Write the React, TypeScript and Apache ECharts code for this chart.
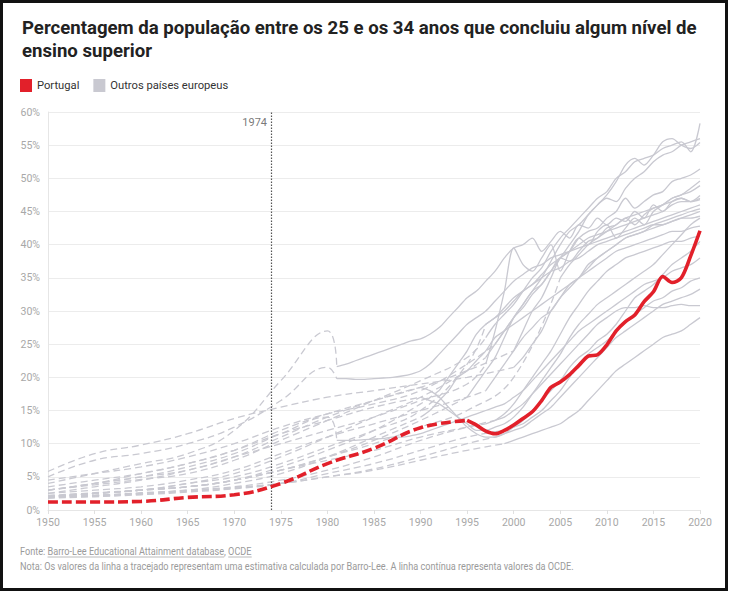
import React, { useEffect, useRef } from 'react';
import * as echarts from 'echarts';

// ---------- texts ----------
const TITLE =
  'Percentagem da população entre os 25 e os 34 anos que concluiu algum nível de\nensino superior';
const NAME_PT = 'Portugal';
const NAME_OTHERS = 'Outros países europeus';
const MARK_YEAR = 1974;
const MARK_LABEL = '1974';
const SOURCE_PREFIX = 'Fonte: ';
const SOURCE_LINK_1 = 'Barro-Lee Educational Attainment database';
const SOURCE_SEP = ', ';
const SOURCE_LINK_2 = 'OCDE';
const NOTE =
  'Nota: Os valores da linha a tracejado representam uma estimativa calculada por Barro-Lee. A linha contínua representa valores da OCDE.';

// ---------- axes ----------
const X_MIN = 1950;
const X_MAX = 2020;
const X_STEP = 5;
const Y_MIN = 0;
const Y_MAX = 60;
const Y_STEP = 5;

// Barro-Lee values are 5-yearly from 1950, up to (not including) the start of OECD data.
// OECD values are yearly from the start year to 2020.

// Portugal
const ptStart = 1995;
const ptBarroLee = [1.2, 1.2, 1.3, 1.9, 2.3, 4.0, 7.0, 9.3, 12.4];
const ptOecd = [
  13.5, 12.8, 11.9, 11.5, 12.0, 12.8, 13.8, 14.8, 16.5, 18.5,
  19.3, 20.4, 21.8, 23.2, 23.4, 24.9, 27.0, 28.4, 29.4, 31.4,
  32.9, 35.2, 34.3, 35.0, 38.3, 42.1,
];

// Other European countries
const c01Start = 1997;
const c01BarroLee = [3.0, 3.8, 4.6, 5.5, 7.5, 10.5, 13.5, 16.5, 19.5, 23];
const c01Oecd = [26, 28, 29.5, 31, 33, 35, 36.5, 39, 41, 42.5, 44, 45.5, 47, 48, 50, 51, 52.5, 53, 53.5, 54.5, 55, 55.5, 54, 58.3];

const c02Start = 1998;
const c02BarroLee = [4.5, 5.5, 6.5, 8, 10, 12.5, 14.5, 16, 18, 22];
const c02Oecd = [25, 27, 29, 30.5, 32.5, 34, 36, 38, 40, 42, 44.5, 46, 47, 46.5, 48.5, 50, 51, 52.5, 53.5, 54, 55, 55.5, 56];

const c03Start = 1997;
const c03BarroLee = [2, 2.5, 3, 4, 5.5, 8, 11, 14, 17, 21];
const c03Oecd = [23, 25, 27, 29, 31, 33, 35, 37.5, 40, 42, 43, 44.5, 46, 47.5, 49.5, 52, 53, 52, 53.5, 55.5, 56, 55, 54.5, 55.4];

const c04Start = 2000;
const c04BarroLee = [3.5, 4.5, 5.5, 7, 9, 12, 14.5, 16.5, 18.5, 21];
const c04Oecd = [24, 27, 30, 32, 35, 38, 39, 41, 42, 42.5, 44, 45, 47, 45.5, 46.5, 47.5, 48, 49.5, 50, 50.5, 51.4];

const c05Start = 1995;
const c05BarroLee = [2, 2.5, 3, 3.5, 4.5, 6, 8, 10.5, 13.5];
const c05Oecd = [17, 19, 21, 23, 26, 29, 31, 33, 34, 36, 38, 37.5, 39, 40.5, 41, 42.5, 43, 44, 43, 44.5, 45.5, 46, 47, 47.5, 48.5, 49.6];

const c06Start = 1997;
const c06BarroLee = [3, 4, 5, 6, 8, 10, 12, 14, 16.5, 19];
const c06Oecd = [22, 27, 33, 39.5, 37, 36, 38, 40, 36, 39, 41, 40, 42, 43, 41, 42.5, 44, 43, 45, 46, 47, 47.5, 48, 48.9];

const c07Start = 1981;
const c07BarroLee = [4, 5.5, 7, 8.5, 12, 19.5, 27];
const c07Oecd = [
  21.6, 22, 22.5, 23, 23.5, 24, 24.5, 25, 25.5, 25.8,
  26.5, 27.5, 29, 30.5, 32, 33, 34.5, 36, 38, 39.5,
  40, 41, 39, 40.5, 42, 41, 43, 42.5, 44, 43,
  44, 43.5, 45, 44, 46, 45, 46.5, 47, 46.5, 47.4,
];

const c08Start = 1981;
const c08BarroLee = [5, 7.5, 8.5, 10, 12.5, 16.5, 21.5];
const c08Oecd = [
  19.8, 19.8, 19.7, 19.7, 19.8, 19.9, 20, 20.2, 20.5, 21,
  22, 23.5, 25, 26.5, 28, 29, 30, 31.5, 33, 34.5,
  35.5, 36.5, 37, 38, 38.5, 39, 39.5, 40, 40.5, 41,
  41.5, 42, 42.5, 43, 43.5, 44, 44.5, 45, 45.5, 46,
];

const c09Start = 1997;
const c09BarroLee = [2.5, 3, 3.5, 4.5, 6, 8.5, 11, 13, 15, 17];
const c09Oecd = [18, 20, 22, 24, 26, 27.5, 29, 30, 32, 33.5, 35, 36.5, 38, 39, 40, 41, 41.5, 42, 43, 43.5, 44, 44.5, 45, 45.4];

const c10Start = 1992;
const c10BarroLee = [2, 2.5, 3, 3.5, 4.5, 6.5, 9, 12, 16];
const c10Oecd = [18, 20, 22, 24, 26.5, 28, 29, 30.5, 32, 33, 34, 35, 36, 36.5, 37.5, 38, 39, 40, 40.5, 41, 41.5, 42, 42.5, 43, 43, 43.5, 44, 44, 44.3];

const c11Start = 1990;
const c11BarroLee = [1.8, 2.2, 2.6, 3, 4, 5.5, 8, 11];
const c11Oecd = [14, 15, 16.5, 18, 20, 21, 22.5, 24, 26, 27, 28, 29, 30, 31, 32, 33, 34, 35, 36, 37, 38, 39, 39.5, 40, 40.5, 41, 41.5, 42, 42, 42.5, 42.8];

const c12Start = 1998;
const c12BarroLee = [2, 2.2, 2.5, 3, 3.5, 4.5, 6, 8, 10.5, 12.5];
const c12Oecd = [13.5, 14.5, 16, 18, 20, 22, 24, 26.5, 29, 31, 33, 34.5, 36, 37, 38, 38.5, 39, 39.5, 40, 40.5, 40.5, 41, 41.3];

const c13Start = 1999;
const c13BarroLee = [1.8, 2, 2.3, 2.7, 3.2, 4, 5.5, 7, 9, 11];
const c13Oecd = [12, 12.5, 13, 14, 15, 16.5, 18, 20, 22, 23.5, 24.5, 25.5, 27, 28.5, 29.5, 30.5, 31.5, 32, 33, 33.5, 34.5, 35];

const c14Start = 1998;
const c14BarroLee = [1.9, 2.1, 2.4, 2.8, 3.3, 4, 5, 6.2, 8, 10];
const c14Oecd = [11, 11.5, 12, 12.5, 13.5, 14.5, 15.5, 17, 18.5, 20, 21.5, 23, 24.5, 26, 27, 28, 29, 30, 31, 31.5, 32, 32.5, 33.3];

const c15Start = 1997;
const c15BarroLee = [2.2, 2.6, 3, 3.5, 4.5, 6, 7.5, 9, 11, 12.5];
const c15Oecd = [13, 13.5, 14, 15, 16, 17.5, 19, 20.5, 22, 23.5, 25, 26.5, 28, 29, 30, 30.5, 30.5, 30.8, 30.5, 30.5, 30.8, 31, 30.8, 30.8];

const c16Start = 1999;
const c16BarroLee = [2, 2.2, 2.5, 2.9, 3.4, 4, 5, 6, 7.5, 9];
const c16Oecd = [10, 10.5, 11, 11.5, 12, 12.5, 13, 14, 15, 16.5, 18, 19.5, 21, 22, 23, 24, 25, 26, 26.5, 27, 28, 29];

const c17Start = 1990;
const c17BarroLee = [2.5, 3.5, 4.5, 6, 8, 11, 14, 16.5];
const c17Oecd = [
  18.5, 18, 17, 15.5, 14, 12.5, 11.5, 11, 11, 11.5, 12.5,
  13.5, 15, 16.5, 18, 19.5, 21.5, 23, 24, 25.5, 26.5,
  28, 30, 32, 33, 34, 35.5, 37, 38, 39, 40.5,
];

const c18Start = 1990;
const c18BarroLee = [3, 4, 5.5, 7, 9, 11.5, 13.5, 15.5];
const c18Oecd = [
  17, 16.5, 16, 15, 14, 13, 12, 12, 12.5, 13, 14,
  15.5, 17.5, 19.5, 21.5, 23.5, 26, 28, 29.5, 31, 32,
  33, 34, 35, 36, 37, 38.5, 40, 41.5, 43, 44,
];

const c19Start = 1997;
const c19BarroLee = [2, 2.5, 3, 4, 5, 7, 9.5, 12, 15, 22];
const c19Oecd = [28, 29, 30, 31.5, 33, 34, 35.5, 37, 38, 39, 40, 41, 41.5, 42, 42.5, 43, 43.5, 44, 44.5, 45, 46, 46.5, 46.5, 46.8];

const c20Start = 2000;
const c20BarroLee = [5.8, 8.5, 9.8, 11.5, 13.8, 15.5, 17, 18, 19, 20];
const c20Oecd = [21.5, 23, 25, 27, 30, 32, 34, 35, 37, 38, 39, 40, 41, 41.5, 42, 42.5, 43, 43.5, 44, 44.5, 45];

const c21Start = 2005;
const c21BarroLee = [2, 2.5, 3, 3.5, 4.5, 6, 8, 10, 12.5, 15, 20];
const c21Oecd = [35, 37, 38.5, 40, 41, 42, 43, 44, 44.5, 45, 45.5, 46, 46.5, 47, 46.5, 47];

const c22Start = 1981;
const c22BarroLee = [3, 4, 5, 6.5, 8.5, 11.5, 14];
const c22Oecd = [
  10.5, 10.5, 10.5, 10.6, 10.7, 10.8, 11, 11, 11.2, 11.5,
  12, 12.5, 13, 13.5, 14, 14.5, 15, 15.5, 16, 17,
  18, 19.5, 21, 22.5, 24, 25.5, 27, 28, 29, 30,
  31, 32, 33, 34, 34.5, 35, 36, 36.5, 37, 38,
];

const OTHERS = [
  { start: c01Start, bl: c01BarroLee, oecd: c01Oecd },
  { start: c02Start, bl: c02BarroLee, oecd: c02Oecd },
  { start: c03Start, bl: c03BarroLee, oecd: c03Oecd },
  { start: c04Start, bl: c04BarroLee, oecd: c04Oecd },
  { start: c05Start, bl: c05BarroLee, oecd: c05Oecd },
  { start: c06Start, bl: c06BarroLee, oecd: c06Oecd },
  { start: c07Start, bl: c07BarroLee, oecd: c07Oecd },
  { start: c08Start, bl: c08BarroLee, oecd: c08Oecd },
  { start: c09Start, bl: c09BarroLee, oecd: c09Oecd },
  { start: c10Start, bl: c10BarroLee, oecd: c10Oecd },
  { start: c11Start, bl: c11BarroLee, oecd: c11Oecd },
  { start: c12Start, bl: c12BarroLee, oecd: c12Oecd },
  { start: c13Start, bl: c13BarroLee, oecd: c13Oecd },
  { start: c14Start, bl: c14BarroLee, oecd: c14Oecd },
  { start: c15Start, bl: c15BarroLee, oecd: c15Oecd },
  { start: c16Start, bl: c16BarroLee, oecd: c16Oecd },
  { start: c17Start, bl: c17BarroLee, oecd: c17Oecd },
  { start: c18Start, bl: c18BarroLee, oecd: c18Oecd },
  { start: c19Start, bl: c19BarroLee, oecd: c19Oecd },
  { start: c20Start, bl: c20BarroLee, oecd: c20Oecd },
  { start: c21Start, bl: c21BarroLee, oecd: c21Oecd },
  { start: c22Start, bl: c22BarroLee, oecd: c22Oecd },
];

// ---------- style ----------
const W = 729;
const H = 593;
const RED = '#e2202a';
const GREY = '#c9c9d1';
const LABEL_FONT = "'Roboto', sans-serif";
const TITLE_FONT = "'Roboto', 'Noto Sans', sans-serif";

function dashedData(bl: number[], start: number, oecd: number[]) {
  const pts: number[][] = bl.map((v, i) => [X_MIN + X_STEP * i, v]);
  pts.push([start, oecd[0]]);
  return pts;
}
function solidData(start: number, oecd: number[]) {
  return oecd.map((v, i) => [start + i, v]);
}

function measure(text: string, font: string) {
  const c = document.createElement('canvas').getContext('2d')!;
  c.font = font;
  return c.measureText(text).width;
}

export default function App() {
  const ref = useRef<HTMLDivElement>(null);

  useEffect(() => {
    if (!ref.current) return;
    const chart = echarts.init(ref.current, undefined, { renderer: 'svg' });

    const series: any[] = [];
    OTHERS.forEach((c) => {
      series.push({
        name: NAME_OTHERS,
        type: 'line',
        data: dashedData(c.bl, c.start, c.oecd),
        smooth: 0.45,
        symbol: 'none',
        silent: true,
        z: 2,
        itemStyle: { color: GREY },
        lineStyle: { color: GREY, width: 1.3, type: [7, 4] },
      });
      series.push({
        name: NAME_OTHERS,
        type: 'line',
        data: solidData(c.start, c.oecd),
        smooth: 0.3,
        symbol: 'none',
        silent: true,
        z: 2,
        itemStyle: { color: GREY },
        lineStyle: { color: GREY, width: 1.3 },
      });
    });
    series.push({
      name: NAME_PT,
      type: 'line',
      data: dashedData(ptBarroLee, ptStart, ptOecd),
      smooth: 0.45,
      symbol: 'none',
      silent: true,
      z: 5,
      itemStyle: { color: RED },
      lineStyle: { color: RED, width: 3.6, type: [10, 4] },
    });
    series.push({
      name: NAME_PT,
      type: 'line',
      data: solidData(ptStart, ptOecd),
      smooth: 0.3,
      symbol: 'none',
      silent: true,
      z: 5,
      itemStyle: { color: RED },
      lineStyle: { color: RED, width: 3.6 },
    });
    // 1974 marker
    series.push({
      name: 'marker',
      type: 'scatter',
      data: [[MARK_YEAR, 58.4]],
      symbolSize: 1,
      itemStyle: { color: 'rgba(0,0,0,0)' },
      silent: true,
      z: 6,
      label: {
        show: true,
        position: 'left',
        distance: 4,
        formatter: MARK_LABEL,
        color: '#555',
        fontSize: 11,
        fontFamily: LABEL_FONT,
      },
      markLine: {
        silent: true,
        symbol: ['none', 'none'],
        label: { show: false },
        lineStyle: { color: '#555', width: 1.2, type: [1.5, 1.5] },
        data: [{ xAxis: MARK_YEAR }],
      },
    });

    const footFont = 10;
    const footScale = 0.915;
    const footY1 = 551;
    const footY2 = 566;
    const fontStr = `${footFont}px ${LABEL_FONT}`;
    const x0 = 20;
    const wPrefix = measure(SOURCE_PREFIX, fontStr) * footScale;
    const wLink1 = measure(SOURCE_LINK_1, fontStr) * footScale;
    const wSep = measure(SOURCE_SEP, fontStr) * footScale;
    const wLink2 = measure(SOURCE_LINK_2, fontStr) * footScale;
    const ulY = footY1 + 6;

    chart.setOption({
      animation: false,
      title: {
        text: TITLE,
        left: 17,
        top: 11,
        textStyle: {
          fontFamily: TITLE_FONT,
          fontSize: 18.6,
          fontWeight: 'bold',
          color: '#222',
          lineHeight: 23,
        },
      },
      legend: {
        data: [NAME_PT, NAME_OTHERS],
        left: 20,
        top: 79,
        padding: 0,
        icon: 'rect',
        itemWidth: 12,
        itemHeight: 13,
        itemGap: 14,
        itemStyle: { borderWidth: 0 },
        selectedMode: false,
        textStyle: { color: '#333', fontSize: 11.2, fontFamily: LABEL_FONT },
      },
      grid: { left: 48, right: 29, top: 112, bottom: 83, containLabel: false },
      xAxis: {
        type: 'value',
        min: X_MIN,
        max: X_MAX,
        interval: X_STEP,
        axisLine: { show: true, lineStyle: { color: '#e6e6e6' } },
        axisTick: { show: true, length: 4, lineStyle: { color: '#e0e0e0' } },
        splitLine: { show: false },
        axisLabel: {
          color: '#a8a8a8',
          fontSize: 10.5,
          margin: 7,
          fontFamily: LABEL_FONT,
          formatter: (v: number) => String(v),
        },
      },
      yAxis: {
        type: 'value',
        min: Y_MIN,
        max: Y_MAX,
        interval: Y_STEP,
        axisLine: { show: true, lineStyle: { color: '#e6e6e6' } },
        axisTick: { show: false },
        splitLine: { show: true, lineStyle: { color: '#ececec' } },
        axisLabel: {
          color: '#a8a8a8',
          fontSize: 10.5,
          margin: 8,
          fontFamily: LABEL_FONT,
          formatter: '{value}%',
        },
      },
      graphic: [
        {
          type: 'text',
          x: x0,
          y: footY1,
          scaleX: footScale,
          silent: true,
          style: {
            text: SOURCE_PREFIX + SOURCE_LINK_1 + SOURCE_SEP + SOURCE_LINK_2,
            fill: '#9a9a9a',
            font: fontStr,
            x: 0,
            y: 0,
            verticalAlign: 'middle',
          },
        },
        {
          type: 'line',
          silent: true,
          shape: { x1: x0 + wPrefix, y1: ulY, x2: x0 + wPrefix + wLink1, y2: ulY },
          style: { stroke: '#a8a8a8', lineWidth: 0.8 },
        },
        {
          type: 'line',
          silent: true,
          shape: {
            x1: x0 + wPrefix + wLink1 + wSep,
            y1: ulY,
            x2: x0 + wPrefix + wLink1 + wSep + wLink2,
            y2: ulY,
          },
          style: { stroke: '#a8a8a8', lineWidth: 0.8 },
        },
        {
          type: 'text',
          x: x0,
          y: footY2,
          scaleX: footScale,
          silent: true,
          style: { text: NOTE, fill: '#9a9a9a', font: fontStr, x: 0, y: 0, verticalAlign: 'middle' },
        },
      ],
      series,
    });

    return () => chart.dispose();
  }, []);

  return (
    <div style={{ position: 'fixed', left: 0, top: 0, width: W, height: H, background: '#fff' }}>
      <div ref={ref} style={{ position: 'absolute', left: 0, top: 0, width: W, height: H }} />
      <div
        style={{
          position: 'absolute',
          left: 0,
          top: 0,
          width: 728,
          height: 591,
          boxSizing: 'border-box',
          border: '3px solid #111',
          pointerEvents: 'none',
        }}
      />
    </div>
  );
}
